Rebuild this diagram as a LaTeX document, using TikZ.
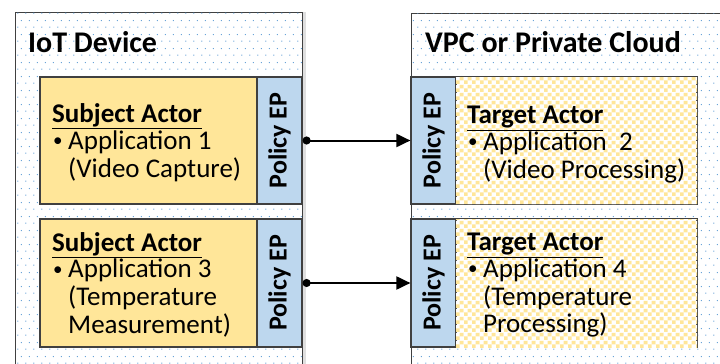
\documentclass[tikz,border=0pt]{standalone}
\usepackage{fontspec}
\setmainfont{Carlito}
\usetikzlibrary{patterns.meta,arrows.meta,shadows}
\definecolor{actyel}{HTML}{FFE699}
\definecolor{epblue}{HTML}{BDD7EE}
\definecolor{dotblue}{HTML}{5B9BD5}
\definecolor{edge}{HTML}{404040}
\tikzdeclarepattern{name=bluedots,type=colored,
  tile size={(8pt,14pt)},bottom left={(0pt,0pt)},top right={(8pt,14pt)},
  code={\fill[dotblue] (2pt,2pt) circle (0.7pt); \fill[dotblue] (6pt,9pt) circle (0.7pt);}}
\tikzdeclarepattern{name=yelcheck,type=colored,
  tile size={(8pt,8pt)},bottom left={(0pt,0pt)},top right={(8pt,8pt)},
  code={\fill[white] (0pt,0pt) rectangle (8pt,8pt);
        \fill[actyel] (0pt,0pt) rectangle (4pt,4pt);
        \fill[actyel] (4pt,4pt) rectangle (8pt,8pt);}}
\tikzset{
  region/.style={draw=edge,line width=1pt,fill=white,postaction={pattern=bluedots}},
  subj/.style={draw=edge,line width=1.2pt,fill=actyel},
  targ/.style={draw=edge,line width=1.2pt,fill=white,postaction={pattern=yelcheck}},
  ep/.style={draw=edge,line width=1.2pt,fill=epblue},
  eptext/.style={rotate=90,font=\fontsize{26}{30}\selectfont\bfseries,inner sep=0pt},
  title/.style={anchor=base west,font=\fontsize{30}{34}\selectfont\bfseries,inner sep=0pt},
  body/.style={anchor=north west,inner sep=0pt,align=left},
  link/.style={line width=2pt,{Circle[length=8pt]}-{Triangle[length=14pt,width=13pt]}}
}
\newcommand{\actorhead}[1]{\multicolumn{2}{@{}l@{}}{\textbf{\underline{#1}}}}
\newcommand{\blt}{\makebox[16pt][l]{\hspace{1pt}\raisebox{2.5pt}{\fontsize{19}{19}\selectfont\textbullet}}}
\newenvironment{actorlist}{\fontsize{27}{26.5}\selectfont
  \begin{tabular}{@{}l@{}l@{}}}{\end{tabular}}
\begin{document}
\begin{tikzpicture}[x=1pt,y=-1pt]
\useasboundingbox (0,0) rectangle (720,364);
\clip (0,0) rectangle (720,364);
% outer regions
\path[region,drop shadow={shadow xshift=4pt,shadow yshift=0pt,opacity=0.25,fill=gray}] (15,12) rectangle (302,380);
\path[region] (411,13) rectangle (740,380);
\node[title] (ttl1) at (28,52) {IoT Device};
\node[title] (ttl2) at (425,52) {VPC or Private Cloud};
% left actors
\path[subj] (40,77) rectangle (257,204);
\node[ep,minimum width=45pt,minimum height=127pt,inner sep=0pt] (ep1) at (279.5,140.5) {};
\node[eptext] at (ep1.center) {Policy EP};
\node[body] (s1) at (52,103.5) {\begin{actorlist}\actorhead{Subject Actor}\\
  \blt & Application 1\\ & (Video Capture)\end{actorlist}};
\path[subj] (40,219) rectangle (257,347);
\node[ep,minimum width=45pt,minimum height=128pt,inner sep=0pt] (ep3) at (279.5,283) {};
\node[eptext] at (ep3.center) {Policy EP};
\node[body] (s3) at (52,232) {\begin{actorlist}\actorhead{Subject Actor}\\
  \blt & Application 3\\ & (Temperature\\ & Measurement)\end{actorlist}};
% right actors
\node[ep,minimum width=45pt,minimum height=127pt,inner sep=0pt] (ep2) at (433.5,140.5) {};
\node[eptext] at (ep2.center) {Policy EP};
\path[targ] (456,77) rectangle (697,204);
\node[body] (t2) at (467,105) {\begin{actorlist}\actorhead{Target Actor}\\
  \blt & Application\ \ 2\\ & (Video Processing)\end{actorlist}};
\node[ep,minimum width=45pt,minimum height=128pt,inner sep=0pt] (ep4) at (433.5,283) {};
\node[eptext] at (ep4.center) {Policy EP};
\path[targ] (456,219) rectangle (697,347);
\node[body] (t4) at (467,232) {\begin{actorlist}\actorhead{Target Actor}\\
  \blt & Application 4\\ & (Temperature\\ & Processing)\end{actorlist}};
% links
\draw[link] (ep1.east) -- (ep2.west);
\draw[link] (ep3.east) -- (ep4.west);
\end{tikzpicture}
\end{document}
